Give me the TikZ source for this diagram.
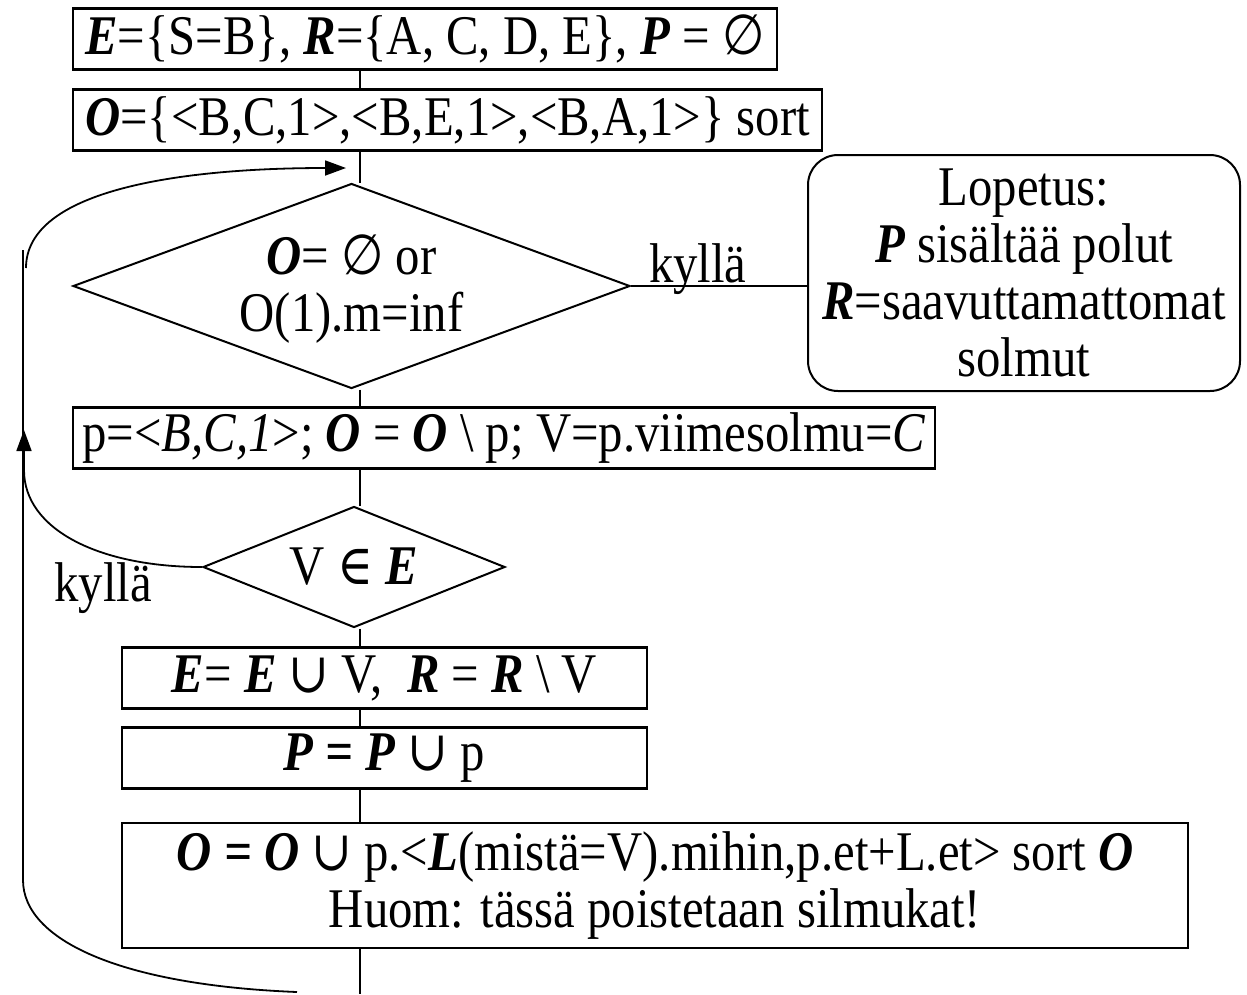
\documentclass[tikz,border=0pt]{standalone}
\usepackage{fontspec}
\setmainfont[FakeStretch=0.87]{Liberation Serif}
\newfontfamily\symf[FakeStretch=0.87]{DejaVu Serif}
\newfontfamily\symsans[FakeStretch=0.87]{DejaVu Sans}
\usetikzlibrary{shapes.geometric,arrows.meta}
\newcommand{\bi}[1]{\textbf{\textit{#1}}}
\newcommand{\tyhja}{{\symsans ∅}}
\newcommand{\yhd}{{\symf ∪}}
\newcommand{\kuuluu}{{\symf ∈}}
\begin{document}
\begin{tikzpicture}[x=1pt,y=-1pt,
    every node/.style={font=\fontsize{56}{57}\selectfont, inner sep=0pt},
    box/.style={draw, line width=2.2pt, minimum height=61pt},
    choice/.style={draw, diamond, line width=2pt},
    link/.style={line width=1.8pt},
    tip/.style={-{Triangle[length=21pt,width=15pt]}}]
  \useasboundingbox (0,0) rectangle (1247,994);
  \coordinate (axis) at (360,0);
  % main column
  \node[box, minimum width=704pt] (init) at (425,39)
    {\bi{E}=\{S=B\}, \bi{R}=\{A, C, D, E\}, \bi{P} = \tyhja};
  \node[box, minimum width=749pt] (sorted) at (447.5,120)
    {\bi{O}=\{<B,C,1>,<B,E,1>,<B,A,1>\} sort};
  \node[choice, minimum width=557pt, minimum height=205pt, aspect=2.7] (check) at (351.5,286)
    {};
  \node[align=center] at ([yshift=-3pt]check.center) {\bi{O}= \tyhja{} or\\O(1).m=inf};
  \node[draw, rounded corners=30pt, line width=2pt, minimum width=432pt,
    minimum height=236pt, align=center] (done) at (1024,273)
    {Lopetus:\\\bi{P} sisältää polut\\\bi{R}=saavuttamattomat\\solmut};
  \node[box, minimum width=862pt] (pick) at (504,438)
    {p=<\textit{B,C,1}>; \bi{O} = \bi{O} \textbackslash{} p; V=p.viimesolmu=\textit{C}};
  \node[choice, minimum width=302pt, minimum height=121pt, aspect=2.5] (test) at (354,567)
    {V \kuuluu{} \bi{E}};
  \node[box, minimum width=525pt] (move) at (384.5,678)
    {\bi{E}= \bi{E} \yhd{} V,\ \ \bi{R} = \bi{R} \textbackslash{} V};
  \node[box, minimum width=525pt] (addp) at (384.5,758)
    {\bi{P = P} \yhd{} p};
  \node[box, minimum width=1066pt, minimum height=125pt, align=center] (update) at (655,885.5)
    {\bi{O = O} \yhd{} p.<\bi{L}(mistä=V).mihin,p.et+L.et> sort \bi{O}\\Huom: tässä poistetaan silmukat!};
  \node (yes) at (103,588) {kyllä};
  \coordinate (exit) at (360,994);
  \draw[link] (init.south -| axis) -- (sorted.north -| axis);
  \draw[link] (sorted.south -| axis) -- (check.north -| axis);
  \draw[link] (check.east) -- node[pos=0.38, anchor=base, yshift=4pt] {kyllä} (check.east -| done.west);
  \draw[link] (check.south -| axis) -- (pick.north -| axis);
  \draw[link] (pick.south -| axis) -- (test.north -| axis);
  \draw[link] (test.south -| axis) -- (move.north -| axis);
  \draw[link] (move.south -| axis) -- (addp.north -| axis);
  \draw[link] (addp.south -| axis) -- (update.north -| axis);
  \draw[link] (update.south -| axis) -- (exit);
  % loop back
  \draw[link] (297,992) .. controls (120,985) and (23,940) .. (23,880) -- (23,250);
  \draw[link, tip] (26,268) .. controls (26,190) and (180,168) .. (346,168);
  \draw[link, tip] (test.west) .. controls (100,567) and (24,530) .. (24,470) -- (24,430);
\end{tikzpicture}
\end{document}
